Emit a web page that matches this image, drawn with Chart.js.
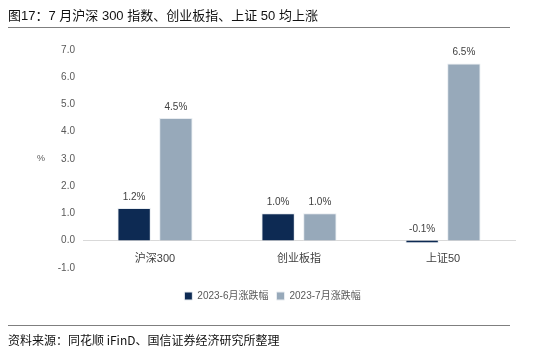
<!DOCTYPE html>
<html lang="zh">
<head>
	<meta charset="UTF-8">
	<script src="https://cdn.jsdelivr.net/npm/chart.js"></script>
	<title>图17</title>
	<style>
		body { margin: 0; width: 550px; height: 351px; position: relative; background: #fff; overflow: hidden; }
		#titulo { position: absolute; left: 8px; top: 5px; font: 13px "Liberation Sans", "Noto Sans CJK SC", sans-serif; color: #111; }
		#linea1 { position: absolute; left: 8px; top: 27px; width: 502px; height: 0; border-top: 1.5px solid #7f7f7f; }
		#linea2 { position: absolute; left: 8px; top: 325px; width: 502px; height: 0; border-top: 1.5px solid #7f7f7f; }
		#fuente { position: absolute; left: 8px; top: 331px; font: 12px "Noto Sans CJK SC", sans-serif; color: #111; }
		#zona { position: absolute; left: 0; top: 0; width: 550px; height: 351px; }
	</style>
</head>
<body>
	<div id="zona"><canvas id="myChart" width="550" height="351"></canvas></div>
	<div id="titulo">图17：7 月沪深 300 指数、创业板指、上证 50 均上涨</div>
	<div id="linea1"></div>
	<div id="linea2"></div>
	<div id="fuente">资料来源：同花顺 iFinD、国信证券经济研究所整理</div>
	<script type="text/javascript">
		// datos
		const categorias = ['沪深300', '创业板指', '上证50'];
		const junio = [1.2, 1.0, -0.1];
		const julio = [4.5, 1.0, 6.5];
		const nombres = ['2023-6月涨跌幅', '2023-7月涨跌幅'];
		const ticksY = [-1, 0, 1, 2, 3, 4, 5, 6, 7];

		const fuente = '"Liberation Sans", "Noto Sans CJK SC", sans-serif';

		// etiquetas de valor encima de las barras
		const etiquetas = {
			id: 'etiquetas',
			afterDatasetsDraw(chart) {
				const ctx = chart.ctx;
				ctx.save();
				ctx.font = '10px ' + fuente;
				ctx.fillStyle = '#404040';
				ctx.textAlign = 'center';
				ctx.textBaseline = 'bottom';
				chart.data.datasets.forEach((ds, i) => {
					chart.getDatasetMeta(i).data.forEach((bar, j) => {
						const top = Math.min(bar.y, bar.base);
						ctx.fillText(ds.data[j].toFixed(1) + '%', bar.x, top - 6);
					});
				});
				// unidad del eje
				const y = chart.scales.y;
				ctx.fillStyle = '#595959';
				ctx.font = '9px ' + fuente;
				ctx.textBaseline = 'middle';
				ctx.fillText('%', 41, y.getPixelForValue(3));
				ctx.restore();
			}
		};

		const ctx = document.getElementById('myChart').getContext('2d');
		const myChart = new Chart(ctx, {
			type: 'bar',
			data: {
				labels: categorias,
				datasets: [{
					label: nombres[0],
					data: junio,
					backgroundColor: '#0d2a53',
					borderColor: '#e8ecf0',
					borderWidth: 1
				}, {
					label: nombres[1],
					data: julio,
					backgroundColor: '#97a9ba',
					borderColor: '#e8ecf0',
					borderWidth: 1
				}]
			},
			options: {
				responsive: false,
				animation: false,
				devicePixelRatio: 1,
				layout: { padding: { top: 50, left: 30, right: 35, bottom: 40 } },
				datasets: { bar: { categoryPercentage: 0.58, barPercentage: 0.8 } },
				scales: {
					x: {
						position: { y: 0 },
						grid: { display: false },
						border: { color: '#d9d9d9', width: 1 },
						ticks: { color: '#404040', font: { size: 11, family: fuente }, padding: 4 }
					},
					y: {
						min: -1,
						max: 7,
						afterBuildTicks(axis) { axis.ticks = ticksY.map(v => ({ value: v })); },
						afterFit(axis) { axis.width = 53; },
						grid: { display: false, drawTicks: false },
						border: { display: false },
						ticks: {
							color: '#595959',
							font: { size: 10, family: fuente },
							padding: 8,
							callback: v => v.toFixed(1)
						}
					}
				},
				plugins: {
					legend: {
						position: 'bottom',
						title: { display: true, text: '', font: { size: 1 }, padding: { top: 0, bottom: 14 } },
						labels: {
							boxWidth: 8,
							boxHeight: 8,
							padding: 8,
							color: '#595959',
							font: { size: 10, family: fuente }
						}
					},
					tooltip: { enabled: false }
				}
			},
			plugins: [etiquetas]
		});
	</script>
</body>
</html>
